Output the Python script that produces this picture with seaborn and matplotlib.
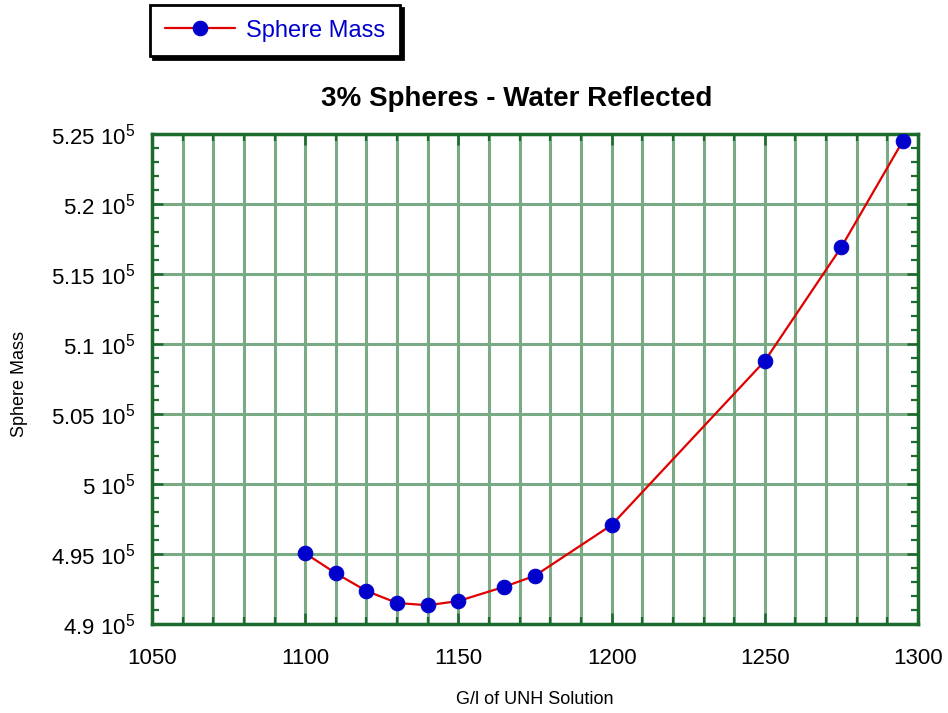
import matplotlib
matplotlib.use("Agg")
import matplotlib.pyplot as plt
from matplotlib.ticker import MultipleLocator, FixedLocator, FuncFormatter
import seaborn as sns
import pandas as pd

# ---- data ----
concentration = [1100, 1110, 1120, 1130, 1140, 1150, 1165, 1175, 1200, 1250, 1275, 1295]
sphere_mass = [495050, 493620, 492360, 491500, 491340, 491640, 492660, 493450,
               497070, 508790, 516930, 524480]
y_ticks = [4.9e5, 4.95e5, 5.0e5, 5.05e5, 5.1e5, 5.15e5, 5.2e5, 5.25e5]
x_ticks = [1050, 1100, 1150, 1200, 1250, 1300]
title = "3% Spheres - Water Reflected"
x_label = "G/l of UNH Solution"
y_label = "Sphere Mass"
series_name = "Sphere Mass"

df = pd.DataFrame({"x": concentration, "y": sphere_mass})

sns.set_theme(style="white")
plt.rcParams["font.family"] = ["Liberation Sans", "DejaVu Sans"]
plt.rcParams["mathtext.default"] = "regular"
plt.rcParams["text.color"] = "black"

W, H = 948, 713
fig = plt.figure(figsize=(W / 100, H / 100), dpi=100)
fig.patch.set_facecolor("white")
ax = fig.add_axes([152 / W, 89 / H, (918 - 152) / W, (624 - 134) / H])

spine_col = "#1b6b2c"
grid_col = "#78aa84"

sns.lineplot(data=df, x="x", y="y", ax=ax, color="#e00000", linewidth=1.6,
             marker="o", markersize=10.5, markerfacecolor="#0000cc",
             markeredgecolor="#0000cc", label=series_name, legend=False, zorder=5)

ax.set_xlim(1050, 1300)
ax.set_ylim(4.9e5, 5.25e5)

ax.xaxis.set_major_locator(FixedLocator(x_ticks))
ax.xaxis.set_minor_locator(MultipleLocator(10))
ax.yaxis.set_major_locator(FixedLocator(y_ticks))
ax.yaxis.set_minor_locator(MultipleLocator(1000))

def yfmt(v, pos):
    return f"{v / 1e5:g} 10$^{{5}}$"
ax.yaxis.set_major_formatter(FuncFormatter(yfmt))

# grid: vertical at every 10 units, horizontal at major y ticks
ax.grid(False)
gkw = dict(color=grid_col, linewidth=2.2, linestyle="-", zorder=1)
ax.grid(which="minor", axis="x", **gkw)
ax.grid(which="major", axis="x", **gkw)
ax.grid(which="major", axis="y", **gkw)

for s in ax.spines.values():
    s.set_visible(True)
    s.set_color(spine_col)
    s.set_linewidth(2.5)

ax.tick_params(which="both", direction="in", top=True, right=True, bottom=True, left=True,
               color=spine_col)
ax.tick_params(which="major", length=8, width=1.8)
ax.tick_params(which="minor", length=5, width=1.6)
ax.tick_params(axis="x", which="major", labelsize=16, pad=17, labelcolor="black")
ax.tick_params(axis="y", which="major", labelsize=16, pad=12, labelcolor="black")

ax.set_xlabel(x_label, fontsize=13, color="black")
ax.xaxis.label.set_va("center")
ax.xaxis.set_label_coords(0.5, (713 - 700 - 89) / 490)
ax.set_ylabel(y_label, fontsize=13, color="black")
ax.yaxis.label.set_va("center")
ax.yaxis.set_label_coords((20 - 152) / 766, 0.49)

ax.set_title(title, fontsize=20, fontweight="bold", color="black", pad=0,
             x=(517 - 152) / 766, y=(713 - 99 - 89) / 490, va="center")

leg = fig.legend(handles=ax.get_lines()[:1], labels=[series_name],
                 loc="upper left", bbox_to_anchor=(150 / W, 1 - 5 / H),
                 borderaxespad=0, fontsize=17, frameon=True, fancybox=False,
                 handlelength=3.0, handletextpad=0.45, borderpad=0.62,
                 shadow={"color": "black", "alpha": 1.0})
leg.get_frame().set_edgecolor("black")
leg.get_frame().set_linewidth(2.0)
for t in leg.get_texts():
    t.set_color("#0000cc")

fig.savefig("out.png", dpi=100)
